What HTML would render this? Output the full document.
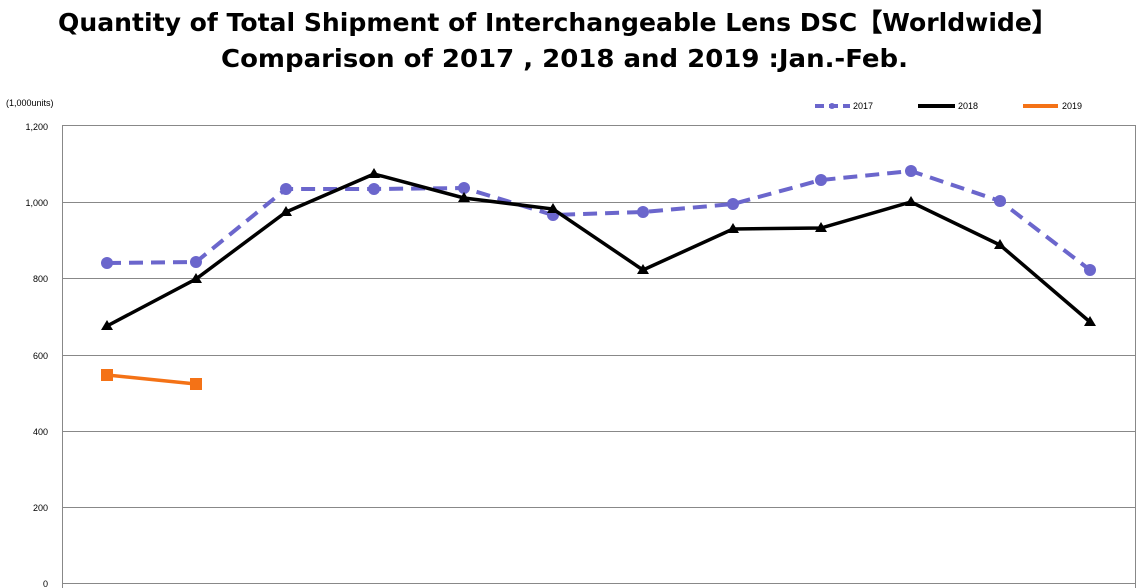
<!DOCTYPE html>
<html><head><meta charset="utf-8"><style>body{margin:0;background:#fff}svg{display:block}</style></head><body>
<svg width="1140" height="588" xmlns="http://www.w3.org/2000/svg" font-family="Liberation Sans, DejaVu Sans, sans-serif">
<text x="58" y="31" textLength="999" lengthAdjust="spacingAndGlyphs" font-size="25" font-weight="bold" font-family="DejaVu Sans, sans-serif">Quantity of Total Shipment of Interchangeable Lens DSC【Worldwide】</text>
<text x="221" y="67" textLength="687" lengthAdjust="spacingAndGlyphs" font-size="25" font-weight="bold" font-family="DejaVu Sans, sans-serif">Comparison of 2017 , 2018 and 2019 :Jan.-Feb.</text>
<text x="6" y="106" font-size="9">(1,000units)</text>
<g font-size="9" text-anchor="end">
<text x="48" y="130">1,200</text><text x="48" y="206">1,000</text><text x="48" y="282">800</text><text x="48" y="359">600</text><text x="48" y="435">400</text><text x="48" y="511">200</text><text x="48" y="587">0</text>
</g>
<rect x="62.5" y="125.5" width="1073" height="470" fill="none" stroke="#888"/>
<g stroke="#888" stroke-width="1">
<line x1="62" y1="202.5" x2="1136" y2="202.5"/><line x1="62" y1="278.5" x2="1136" y2="278.5"/><line x1="62" y1="355.5" x2="1136" y2="355.5"/><line x1="62" y1="431.5" x2="1136" y2="431.5"/><line x1="62" y1="507.5" x2="1136" y2="507.5"/><line x1="62" y1="583.5" x2="1136" y2="583.5"/>
</g>
<polyline fill="none" stroke="#6b66cc" stroke-width="4" stroke-dasharray="14,8" points="107,263 196,262 286,189 374,189 464,188 553,215 643,212 733,204 821,180 911,171 1000,201 1090,270"/>
<g fill="#6b66cc">
<circle cx="107" cy="263" r="6"/><circle cx="196" cy="262" r="6"/><circle cx="286" cy="189" r="6"/><circle cx="374" cy="189" r="6"/><circle cx="464" cy="188" r="6"/><circle cx="553" cy="215" r="6"/><circle cx="643" cy="212" r="6"/><circle cx="733" cy="204" r="6"/><circle cx="821" cy="180" r="6"/><circle cx="911" cy="171" r="6"/><circle cx="1000" cy="201" r="6"/><circle cx="1090" cy="270" r="6"/>
</g>
<polyline fill="none" stroke="#000" stroke-width="3.5" points="107,326 196,279 286,212 374,174 464,198 553,209 643,270 733,229 821,228 911,202 1000,245 1090,322"/>
<g fill="#000">
<path d="M107,320 l6,10 h-12z"/><path d="M196,273 l6,10 h-12z"/><path d="M286,206 l6,10 h-12z"/><path d="M374,168 l6,10 h-12z"/><path d="M464,192 l6,10 h-12z"/><path d="M553,203 l6,10 h-12z"/><path d="M643,264 l6,10 h-12z"/><path d="M733,223 l6,10 h-12z"/><path d="M821,222 l6,10 h-12z"/><path d="M911,196 l6,10 h-12z"/><path d="M1000,239 l6,10 h-12z"/><path d="M1090,316 l6,10 h-12z"/>
</g>
<polyline fill="none" stroke="#f47216" stroke-width="3.5" points="107,375 196,384"/>
<rect x="101" y="369" width="12" height="12" fill="#f47216"/><rect x="190" y="378" width="12" height="12" fill="#f47216"/>
<line x1="815" y1="106" x2="850" y2="106" stroke="#6b66cc" stroke-width="4" stroke-dasharray="9,5"/><circle cx="832" cy="106" r="3" fill="#6b66cc"/>
<line x1="918" y1="106" x2="955" y2="106" stroke="#000" stroke-width="4"/>
<line x1="1023" y1="106" x2="1058" y2="106" stroke="#f47216" stroke-width="4"/>
<g font-size="9"><text x="853" y="109">2017</text><text x="958" y="109">2018</text><text x="1062" y="109">2019</text></g>
</svg>
</body></html>
